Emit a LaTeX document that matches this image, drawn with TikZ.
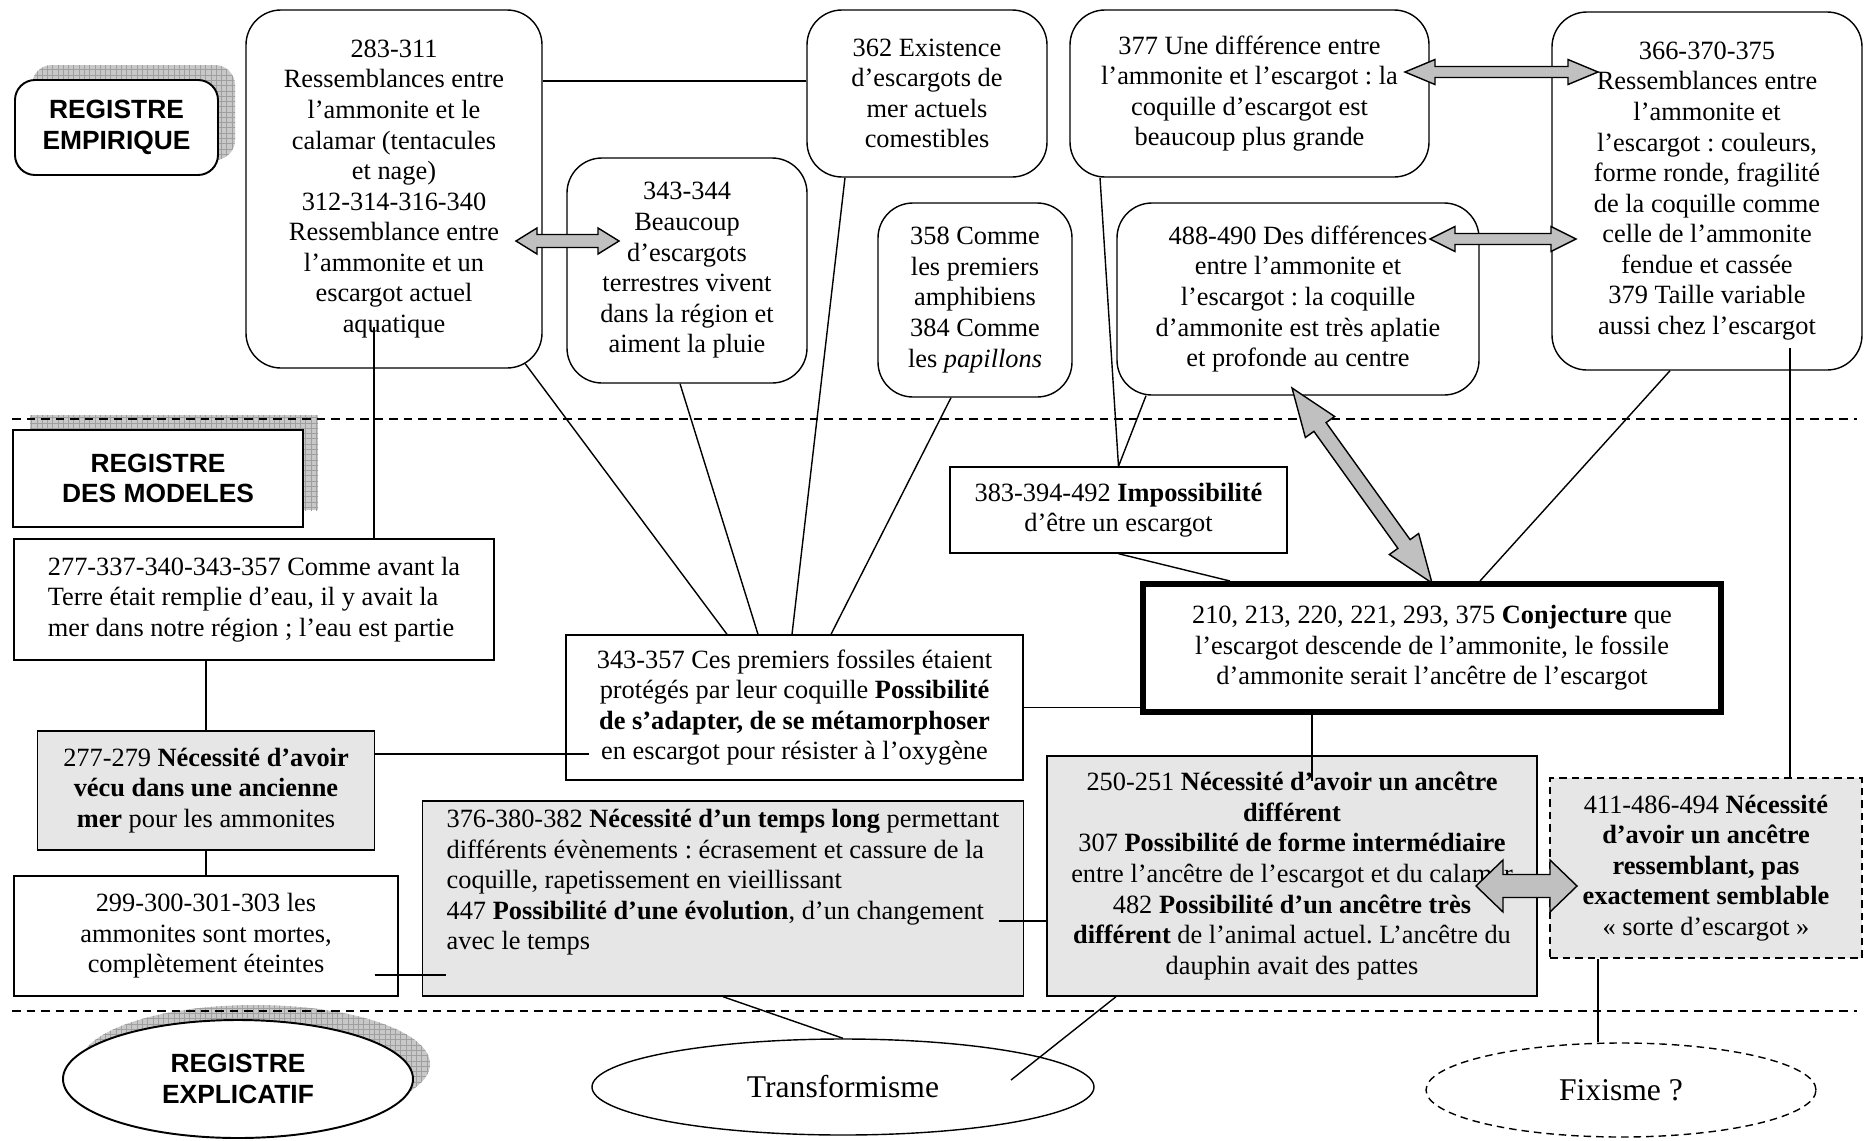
\documentclass[tikz,border=0pt]{standalone}
\usepackage{fontspec}
\setmainfont{Liberation Serif}
\setsansfont{Liberation Sans}
\usetikzlibrary{shapes.geometric, patterns, calc}
\definecolor{rgray}{HTML}{E6E6E6}
\definecolor{rarrow}{HTML}{C0C0C0}
\definecolor{rshadow}{HTML}{C8C8C8}
\newcommand\txtsize{\fontsize{15}{17.4}\selectfont}
\newcommand\bigsize{\fontsize{18}{21}\selectfont}
\frenchspacing

\tikzset{
  wh/.style 2 args={minimum width=#1*0.2mm, minimum height=#2*0.2mm},
  basebox/.style={inner sep=0pt, font=\txtsize, align=center, line width=0.8pt},
  empbox/.style={basebox, draw, fill=white, rounded corners=7mm},
  modbox/.style={basebox, draw, fill=white},
  grbox/.style={modbox, fill=rgray},
  regbox/.style={basebox, draw, fill=white, line width=1.1pt, font=\txtsize\sffamily\bfseries},
  regshadow/.style={fill=rshadow, postaction={pattern=grid, pattern color=gray!75}},
  link/.style={line width=0.8pt},
  sepline/.style={line width=0.9pt, dash pattern=on 1.7mm off 1.2mm},
  blockarrow/.style={draw, fill=rarrow, line width=0.8pt, line join=miter}
}

%% block double arrow: shaft half width, head half width, head length, from, to
\newcommand\dblarrow[5]{%
  \path (#4); \pgfgetlastxy{\arax}{\aray}
  \path (#5); \pgfgetlastxy{\arbx}{\arby}
  \pgfmathsetmacro\arang{atan2(\arby-\aray,\arbx-\arax)}
  \pgfmathsetmacro\arlen{veclen(\arbx-\arax,\arby-\aray)}
  \begin{scope}[shift={(\arax,\aray)}, rotate=\arang]
    \draw[blockarrow] (0pt,0pt) -- (#3,#2) -- (#3,#1) -- (\arlen pt-#3,#1) -- (\arlen pt-#3,#2)
      -- (\arlen pt,0pt) -- (\arlen pt-#3,-#2) -- (\arlen pt-#3,-#1) -- (#3,-#1) -- (#3,-#2) -- cycle;
  \end{scope}}

\begin{document}
\begin{tikzpicture}[x=0.2mm, y=-0.2mm]
  \useasboundingbox (0,0) rectangle (1867,1140);

  %% register shadows
  \fill[regshadow, rounded corners=4mm] (32,65) rectangle (235,160);
  \fill[regshadow] (30,415) rectangle (318,510);
  \fill[regshadow] (255,1064) ellipse ({175*0.2mm} and {59*0.2mm});

  %% register separators
  \draw[sepline] (12,419) -- (1857,419);
  \draw[sepline] (12,1011) -- (1857,1011);

  %% register labels
  \node[regbox, rounded corners=4mm, wh={203}{95}] (regE) at (116.5,127.5) {REGISTRE\\EMPIRIQUE};
  \node[regbox, wh={290}{97}] (regM) at (158,478.5) {REGISTRE\\DES MODELES};
  \node[regbox, ellipse, wh={350}{118}] (regX) at (238,1079) {REGISTRE\\EXPLICATIF};

  %% empirical register
  \node[empbox, wh={296}{358}] (b283) at (394,189)
    {283-311\\Ressemblances entre\\l’ammonite et le\\calamar (tentacules\\et nage)\\312-314-316-340\\Ressemblance entre\\l’ammonite et un\\escargot actuel\\aquatique};
  \node[empbox, wh={240}{167}] (b362) at (927,93.5)
    {362 Existence\\d’escargots de\\mer actuels\\comestibles};
  \node[empbox, wh={359}{167}] (b377) at (1249.5,93.5)
    {377 Une différence entre\\l’ammonite et l’escargot : la\\coquille d’escargot est\\beaucoup plus grande};
  \node[empbox, wh={310}{358}] (b366) at (1707,191)
    {366-370-375\\Ressemblances entre\\l’ammonite et\\l’escargot : couleurs,\\forme ronde, fragilité\\de la coquille comme\\celle de l’ammonite\\fendue et cassée\\379 Taille variable\\aussi chez l’escargot};
  \node[empbox, wh={240}{225}] (b343) at (687,270.5)
    {343-344\\Beaucoup\\d’escargots\\terrestres vivent\\dans la région et\\aiment la pluie};
  \node[empbox, wh={194}{194}] (b358) at (975,300)
    {358 Comme\\les premiers\\amphibiens\\384 Comme\\les \textit{papillons}};
  \node[empbox, wh={362}{192}] (b488) at (1298,299)
    {488-490 Des différences\\entre l’ammonite et\\l’escargot : la coquille\\d’ammonite est très aplatie\\et profonde au centre};

  %% model register
  \node[modbox, align=left, wh={480}{121}] (b277a) at (254,599.5)
    {277-337-340-343-357 Comme avant la\\Terre était remplie d’eau, il y avait la\\mer dans notre région ; l’eau est partie};
  \node[modbox, wh={457}{145}] (b343b) at (794.5,707.5)
    {343-357 Ces premiers fossiles étaient\\protégés par leur coquille \textbf{Possibilité}\\\textbf{de s’adapter, de se métamorphoser}\\en escargot pour résister à l’oxygène};
  \node[modbox, wh={337}{86}] (b383) at (1118.5,510)
    {383-394-492 \textbf{Impossibilité}\\d’être un escargot};
  \node[modbox, line width=3.4pt, wh={578}{128}] (conj) at (1432,648)
    {210, 213, 220, 221, 293, 375 \textbf{Conjecture} que\\l’escargot descende de l’ammonite, le fossile\\d’ammonite serait l’ancêtre de l’escargot};
  \node[grbox, wh={337}{119}] (b277b) at (206,790.5)
    {277-279 \textbf{Nécessité d’avoir}\\\textbf{vécu dans une ancienne}\\\textbf{mer} pour les ammonites};
  \node[modbox, wh={384}{120}] (b299) at (206,936)
    {299-300-301-303 les\\ammonites sont mortes,\\complètement éteintes};
  \node[grbox, align=left, wh={601}{195}] (b376) at (723,898.5)
    {376-380-382 \textbf{Nécessité d’un temps long} permettant\\différents évènements : écrasement et cassure de la\\coquille, rapetissement en vieillissant\\447 \textbf{Possibilité d’une évolution}, d’un changement\\avec le temps\\[1.5mm]};
  \node[grbox, wh={490}{240}] (b250) at (1292,876)
    {250-251 \textbf{Nécessité d’avoir un ancêtre}\\\textbf{différent}\\307 \textbf{Possibilité de forme intermédiaire}\\entre l’ancêtre de l’escargot et du calamar\\482 \textbf{Possibilité d’un ancêtre très}\\\textbf{différent} de l’animal actuel. L’ancêtre du\\dauphin avait des pattes};
  \node[grbox, dash pattern=on 1.5mm off 1mm, wh={312}{180}] (b411) at (1706,868)
    {411-486-494 \textbf{Nécessité}\\\textbf{d’avoir un ancêtre}\\\textbf{ressemblant, pas}\\\textbf{exactement semblable}\\« sorte d’escargot »};

  %% explicative register
  \node[basebox, ellipse, draw, font=\bigsize, wh={502}{96}] (transf) at (843,1087) {Transformisme};
  \node[basebox, ellipse, draw, dash pattern=on 1.5mm off 1mm, font=\bigsize, wh={390}{94}] (fix) at (1621,1090) {Fixisme ?};

  %% free ends
  \coordinate (c283) at (374,327);
  \coordinate (c366) at (1790,348);
  \coordinate (ctr) at (1011,1080);

  %% links
  \draw[link] (b283.east |- 0,81) -- (b362.west |- 0,81);
  \draw[link] (c283) -- (b277a.north -| c283);
  \draw[link] ([xshift=-3.5mm, yshift=1mm]b283.south east) -- ([xshift=-13.5mm]b343b.north);
  \draw[link] ([xshift=-1.4mm]b343.south) -- ([xshift=-7.3mm]b343b.north);
  \draw[link] ([xshift=-16.4mm]b362.south) -- ([xshift=-0.5mm]b343b.north);
  \draw[link] ([xshift=-4.8mm]b358.south) -- ([xshift=7.3mm]b343b.north);
  \draw[link] (b277b.east |- 0,754) -- ($(b343b.west |- 0,754)+(24,0)$);
  \draw[link] (b277a.south -| b277b.north) -- (b277b.north);
  \draw[link] (b277b.south) -- (b277b.south |- b299.north);
  \draw[link] ($(b299.east |- 0,975)+(-24,0)$) -- ($(b376.west |- 0,975)+(24,0)$);
  \draw[link] (b343b.east) -- (conj.west |- b343b.east);
  \draw[link] ($(b376.east |- 0,921)+(-25,0)$) -- (b250.west |- 0,921);
  \draw[link] ([xshift=-24mm]conj.south) -- ++(0,66);
  \draw[link] ([xshift=-29.9mm]b377.south) -- (b383.north);
  \draw[link] ([xshift=-30.4mm]b488.south) -- (b383.north);
  \draw[link] (b383.south) -- ([xshift=-40.4mm]conj.north);
  \draw[link] ([xshift=-7.4mm]b366.south) -- ([xshift=9.6mm]conj.north);
  \draw[link] (c366) -- (b411.north -| c366);
  \draw[link] (b411.south -| 1598,0) -- (fix.north -| 1598,0);
  \draw[link] (b376.south) -- (transf.north);
  \draw[link] ([xshift=-35.2mm]b250.south) -- (ctr);

  %% block arrows
  \coordinate (a1l) at (516,241);  \coordinate (a1r) at (619,241);
  \coordinate (a2l) at (1405,72);  \coordinate (a2r) at (1598,72);
  \coordinate (a3l) at (1430,239); \coordinate (a3r) at (1576,239);
  \coordinate (a4t) at (1292,388); \coordinate (a4b) at (1432,583);
  \coordinate (a5l) at (1476,886); \coordinate (a5r) at (1577,886);
  \dblarrow{1.3mm}{2.6mm}{4.2mm}{a1l}{a1r}
  \dblarrow{1.1mm}{2.5mm}{6mm}{a2l}{a2r}
  \dblarrow{1.1mm}{2.5mm}{5mm}{a3l}{a3r}
  \dblarrow{1.5mm}{3.6mm}{9.6mm}{a4t}{a4b}
  \dblarrow{2.3mm}{5.2mm}{5.4mm}{a5l}{a5r}

\end{tikzpicture}
\end{document}
